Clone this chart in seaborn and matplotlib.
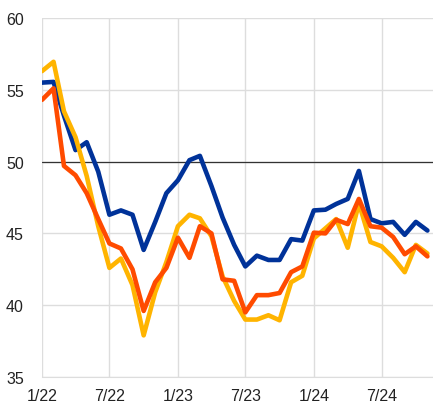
import pandas as pd
import matplotlib
matplotlib.use("Agg")
import matplotlib.pyplot as plt
import seaborn as sns

# === Data === #
months = pd.date_range("2022-01-01", periods=35, freq="MS")

blue = [55.5, 55.55, 53.2, 50.8, 51.35, 49.3, 46.3, 46.6, 46.3, 43.85,
        45.8, 47.8, 48.7, 50.1, 50.4, 48.3, 46.1, 44.2, 42.7, 43.45,
        43.15, 43.15, 44.6, 44.5, 46.6, 46.65, 47.05, 47.4, 49.35, 46.0,
        45.7, 45.8, 44.9, 45.8, 45.2]
yellow = [56.3, 56.95, 53.5, 51.7, 49.0, 45.5, 42.6, 43.25, 41.4, 37.9,
          40.9, 43.0, 45.5, 46.3, 46.05, 44.8, 42.0, 40.3, 39.0, 39.0,
          39.3, 38.95, 41.6, 42.05, 44.65, 45.35, 46.0, 44.0, 47.1, 44.4,
          44.1, 43.3, 42.3, 44.2, 43.6]
orange = [54.3, 55.1, 49.7, 49.05, 47.8, 46.0, 44.3, 43.95, 42.5, 39.6,
          41.6, 42.6, 44.7, 43.3, 45.5, 45.0, 41.8, 41.7, 39.5, 40.7,
          40.7, 40.85, 42.3, 42.7, 45.05, 45.0, 45.95, 45.65, 47.4, 45.5,
          45.4, 44.75, 43.55, 44.1, 43.4]

series_names = ["blue", "yellow", "orange"]
colors = ["#003299", "#FFB400", "#FF4B00"]

tick_dates = pd.to_datetime(["2022-01-01", "2022-07-01", "2023-01-01",
                             "2023-07-01", "2024-01-01", "2024-07-01"])
tick_labels = ["1/22", "7/22", "1/23", "7/23", "1/24", "7/24"]
y_ticks = [35, 40, 45, 50, 55, 60]

df = pd.DataFrame({"month": months, "blue": blue, "yellow": yellow, "orange": orange})
long_df = df.melt(id_vars="month", var_name="series", value_name="value")

# === Plot === #
sns.set_style("white")
plt.rcParams["font.family"] = ["Liberation Sans", "DejaVu Sans"]

fig = plt.figure(figsize=(4.33, 4.02), dpi=100)
ax = fig.add_axes([42 / 433, 1 - 378 / 402, 1 - 42 / 433, (378 - 19) / 402])

sns.lineplot(data=long_df, x="month", y="value", hue="series",
             hue_order=series_names, palette=colors, linewidth=3.3,
             legend=False, ax=ax)

ax.axhline(50, color="#333333", linewidth=0.9, zorder=1)

ax.set_ylim(35, 60)
ax.set_xlim(months[0], pd.Timestamp("2024-11-16"))
ax.set_yticks(y_ticks)
ax.set_xticks(tick_dates)
ax.set_xticklabels(tick_labels)
ax.set_xlabel("")
ax.set_ylabel("")

ax.grid(True, color="#dddddd", linewidth=1.0)
ax.set_axisbelow(True)
for side in ["top", "right", "left"]:
    ax.spines[side].set_visible(False)
ax.spines["bottom"].set_color("#dddddd")
ax.tick_params(axis="both", length=0, labelsize=11.5, colors="#222222")
ax.tick_params(axis="y", pad=13)
ax.tick_params(axis="x", pad=8)

fig.savefig("out.png", dpi=100)
